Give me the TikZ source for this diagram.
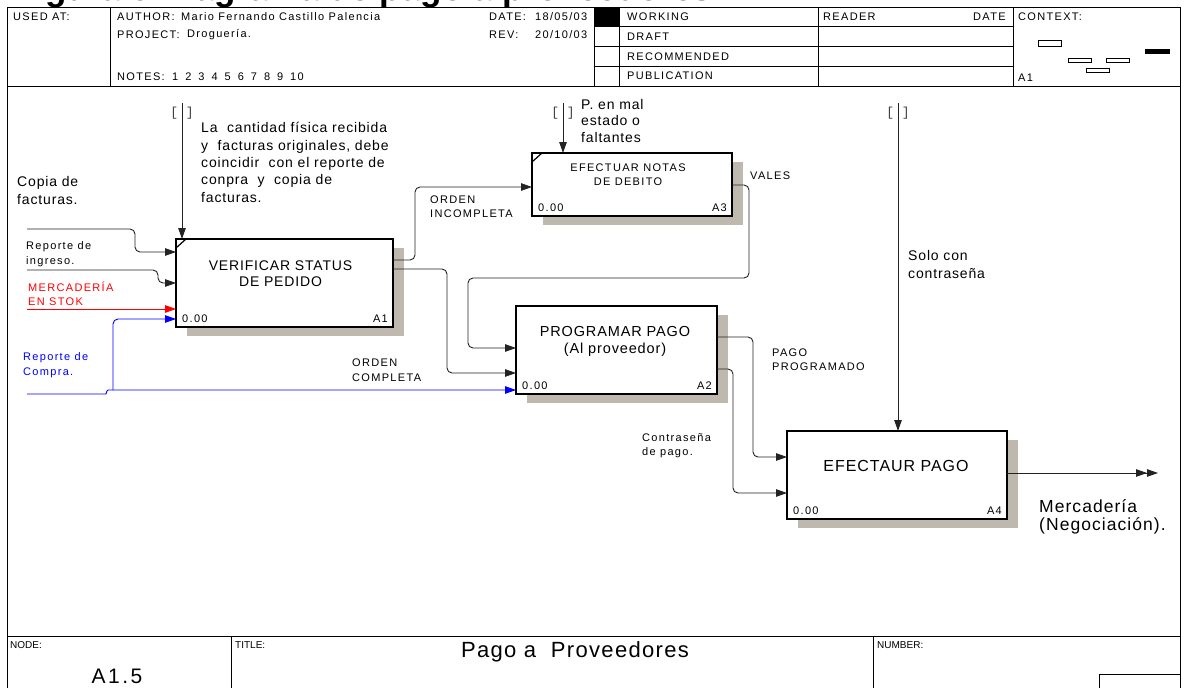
\documentclass[tikz,border=0pt]{standalone}
\usepackage{fontspec}
\setmainfont{Liberation Sans}[LetterSpace=6]
\newfontfamily\smallfam{Liberation Sans}[LetterSpace=12]
\newfontfamily\monofam{Liberation Mono}
\newfontfamily\titlefam{Liberation Sans}
\usetikzlibrary{arrows.meta,calc}
\pgfdeclarelayer{bg}
\pgfsetlayers{bg,main}
\definecolor{shadowgray}{RGB}{190,184,175}
\definecolor{linegray}{RGB}{35,35,35}
\newcommand{\setfs}[2]{\fontsize{#1}{#2}\selectfont}
\begin{document}
\begin{tikzpicture}[x=1pt,y=-1pt,
  procbox/.style={draw, line width=1.6pt, fill=white, anchor=north west, inner sep=0pt, outer sep=0pt},
  conn/.style={draw=linegray, line width=0.9pt, rounded corners=5pt},
  arr/.style={-{Triangle[length=11pt,width=7.5pt]}},
  darr/.style={-{Triangle[length=11pt,width=7.5pt]Triangle[length=11pt,width=7.5pt]}},
  hdr/.style={anchor=west, inner sep=0pt, font=\smallfam\setfs{11}{13}},
  foot/.style={anchor=west, inner sep=0pt, font=\titlefam\setfs{10}{12}},
  lbl/.style={anchor=west, inner sep=0pt, align=left},
  small/.style={lbl, font=\smallfam\setfs{11}{14.5}},
  big/.style={lbl, font=\setfs{14}{17.3}},
  brk/.style={inner sep=0pt, text=black!75, font=\monofam\setfs{13}{13}},
  boxtitle/.style={align=center, inner sep=0pt},
  num/.style={inner sep=0pt, font=\smallfam\setfs{11}{13}}
]
\useasboundingbox (0,0) rectangle (1184,688);
\begin{pgfonlayer}{bg}
\fill[white] (0,0) rectangle (1184,688);
\end{pgfonlayer}

% clipped caption at the very top
\begin{scope}
\clip (0,0) rectangle (1184,688);
\node[anchor=base west, inner sep=0pt, font=\titlefam\bfseries\setfs{35}{40}] (fig) at (14,0.5) {Figura 6 Diagrama de pago a proveedores};
\end{scope}

% ---------- frame ----------
\fill[white] (7,7) rectangle (1180,86);
\draw[line width=0.9pt] (7,7) -- (1180,7) (7,7) -- (7,688) (1180,7) -- (1180,688)
  (7,86) -- (1180,86) (7,636) -- (1180,636);
\draw[line width=0.8pt] (110,7) -- (110,86) (594,7) -- (594,86) (619,7) -- (619,86)
  (818,7) -- (818,86) (1013,7) -- (1013,86)
  (594,26.5) -- (1013,26.5) (594,46.5) -- (1013,46.5) (594,66.5) -- (1013,66.5)
  (231,636) -- (231,688) (873,636) -- (873,688);
\fill (594,7) rectangle (619,26.5);
\draw[line width=0.8pt] (1099,688) -- (1099,674) -- (1180,674);

% header texts
\node[hdr] (usedat) at (13,16.5) {USED AT:};
\node[hdr] (author) at (117,16.5) {AUTHOR:};
\node[hdr] (authorv) at (181,16.5) {Mario Fernando Castillo Palencia};
\node[hdr] (project) at (117,35) {PROJECT:};
\node[hdr] (projectv) at (187,35) {Droguería.};
\node[hdr] (notes) at (117,77) {NOTES:};
\node[hdr] (notesv) at (172,77) {1\hspace{7pt}2\hspace{7pt}3\hspace{7pt}4\hspace{7pt}5\hspace{7pt}6\hspace{7pt}7\hspace{7pt}8\hspace{7pt}9\hspace{7pt}10};
\node[hdr] (date) at (489,16.5) {DATE:};
\node[hdr] (datev) at (535,16.5) {18/05/03};
\node[hdr] (rev) at (489,35) {REV:};
\node[hdr] (revv) at (535,35) {20/10/03};
\node[hdr] (working) at (627,16.5) {WORKING};
\node[hdr] (draft) at (627,36.5) {DRAFT};
\node[hdr] (recom) at (627,56.5) {RECOMMENDED};
\node[hdr] (publ) at (627,76) {PUBLICATION};
\node[hdr] (reader) at (823,16.5) {READER};
\node[hdr] (rdate) at (973,16.5) {DATE};
\node[hdr] (context) at (1018,16.5) {CONTEXT:};
\node[hdr] (ctxa) at (1018,78) {A1};

% context mini diagram
\draw[line width=0.7pt] (1038,40) rectangle (1061,46);
\draw[line width=0.7pt] (1068,58) rectangle (1091,62);
\draw[line width=0.7pt] (1106,58) rectangle (1129,62);
\draw[line width=0.7pt] (1086,68) rectangle (1109,72);
\fill (1145,49) rectangle (1170,54);

% footer texts
\node[foot] (nodel) at (10,645) {NODE:};
\node[foot] (titlel) at (235,645) {TITLE:};
\node[foot] (numberl) at (877,645) {NUMBER:};
\node[inner sep=0pt, font=\smallfam\setfs{21}{24}] (nodev) at (117,676) {A1.5};
\node[inner sep=0pt, font=\setfs{22}{26}] (titlev) at (575,652) {Pago a\ \ Proveedores};

% ---------- activity boxes ----------
\node[procbox, minimum width=217pt, minimum height=88pt] (A1) at (176,239) {};
\node[procbox, minimum width=200pt, minimum height=63pt] (A3) at (532,153) {};
\node[procbox, minimum width=201pt, minimum height=88pt] (A2) at (516,306) {};
\node[procbox, minimum width=220pt, minimum height=88pt] (A4) at (787,431) {};

\begin{pgfonlayer}{bg}
\foreach \bx in {A1,A2,A3,A4}{
  \fill[shadowgray] ($(\bx.north west)+(11,9)$) rectangle ($(\bx.south east)+(11,9)$);
}
\end{pgfonlayer}

\node[boxtitle, font=\setfs{14}{16}] (A1t) at ($(A1.center)+(-4,-9)$) {VERIFICAR STATUS\\DE PEDIDO};
\node[boxtitle, font=\smallfam\setfs{11}{14}] (A3t) at ($(A3.center)+(-4,-9.5)$) {EFECTUAR NOTAS\\DE DEBITO};
\node[boxtitle, font=\setfs{14.5}{17}] (A2t) at ($(A2.center)+(-1.5,-8.5)$) {PROGRAMAR PAGO\\(Al proveedor)};
\node[boxtitle, font=\setfs{16}{18}] (A4t) at ($(A4.center)+(-1,-9)$) {EFECTAUR PAGO};

\foreach \bx/\n in {A1/A1,A2/A2,A3/A3,A4/A4}{
  \node[num, anchor=base west] at ($(\bx.south west)+(6,-4.5)$) {0.00};
  \node[num, anchor=base east] at ($(\bx.south east)+(-5,-4.5)$) {\n};
}

% corner ticks
\draw[line width=1.2pt] ($(A1.north west)+(0,9)$) -- ($(A1.north west)+(10,0)$);
\draw[line width=1.2pt] ($(A3.north west)+(0,9)$) -- ($(A3.north west)+(10,0)$);

% ---------- controls (tunnels) ----------
\coordinate (t1) at (182,103);
\coordinate (t2) at (563,103);
\coordinate (t3) at (898,103);
\draw[conn, arr] (t1) -- (t1 |- A1.north);
\draw[conn, arr] (t2) -- (t2 |- A3.north);
\draw[conn, arr] (t3) -- (t3 |- A4.north);
\node[brk] (b1) at (182,113.5) {[ ]};
\node[brk] (b2) at (563,113.5) {[ ]};
\node[brk] (b3) at (898,113.5) {[ ]};

% ---------- inputs to A1 ----------
\coordinate (s1) at (27,229);
\coordinate (s2) at (27,270);
\coordinate (s3) at (27,309);
\coordinate (s4) at (27,394);
\coordinate (bj) at (113,390);
\draw[conn, arr] (s1) -- (135,229) -- (135,252) -- ($(A1.north west)+(0,13)$);
\draw[conn, arr] (s2) -- (158,270) -- (158,283) -- ($(A1.north west)+(0,44)$);
\draw[conn, draw=red, arr] (s3) -- ($(A1.north west)+(0,70)$);
\draw[conn, draw=blue, arr] (s4) -- (101,394) .. controls (106,394) and (107,390) .. (bj) -- ($(A2.north west)+(0,84)$);
\draw[conn, draw=blue, arr] (bj) -- (113,319) -- ($(A1.north west)+(0,80)$);

% ---------- internal flows ----------
\draw[conn, arr] ($(A1.north east)+(0,21)$) -- (415,260) -- (415,187) -- ($(A3.north west)+(0,34)$);
\draw[conn, arr] ($(A1.north east)+(0,30)$) -- (447,269) -- (447,373) -- ($(A2.north west)+(0,67)$);
\draw[conn, arr] ($(A3.north east)+(0,32)$) -- (749,185) -- (749,278) -- (468,278) -- (468,348) -- ($(A2.north west)+(0,42)$);
\draw[conn, arr] ($(A2.north east)+(0,31)$) -- (753,337) -- (753,457) -- ($(A4.north west)+(0,26)$);
\draw[conn, arr] ($(A2.north east)+(0,63)$) -- (733,369) -- (733,493) -- ($(A4.north west)+(0,62)$);
\coordinate (o1) at (1158,473);
\draw[conn, darr] ($(A4.north east)+(0,42)$) -- (o1);

% ---------- labels ----------
\node[big] (l1) at (17,190.5) {Copia de\\facturas.};
\node[big] (l2) at (201,162.5) {La\ \ cantidad física recibida\\y\ \ facturas originales, debe\\coincidir\ \ con el reporte de\\conpra\ \ y\ \ copia de\\facturas.};
\node[small] (l3) at (26,254) {Reporte de\\ingreso.};
\node[small, text=red] (l4) at (28,294) {MERCADERÍA\\EN STOK};
\node[small, text=blue] (l5) at (23,365) {Reporte de\\Compra.};
\node[small] (l6) at (352,370) {ORDEN\\COMPLETA};
\node[small] (l7) at (430,206.5) {ORDEN\\INCOMPLETA};
\node[lbl, font=\setfs{14}{16.5}] (l8) at (581,120.5) {P. en mal\\estado o\\faltantes};
\node[small] (l9) at (750,176) {VALES};
\node[small] (l10) at (772,359.5) {PAGO\\PROGRAMADO};
\node[small] (l11) at (642,445.5) {Contraseña\\de pago.};
\node[lbl, font=\setfs{14}{18}] (l12) at (908,264) {Solo con\\contraseña};
\node[lbl, font=\setfs{17.5}{18.5}] (l13) at (1039,517) {Mercadería\\(Negociación).};
\end{tikzpicture}
\end{document}
